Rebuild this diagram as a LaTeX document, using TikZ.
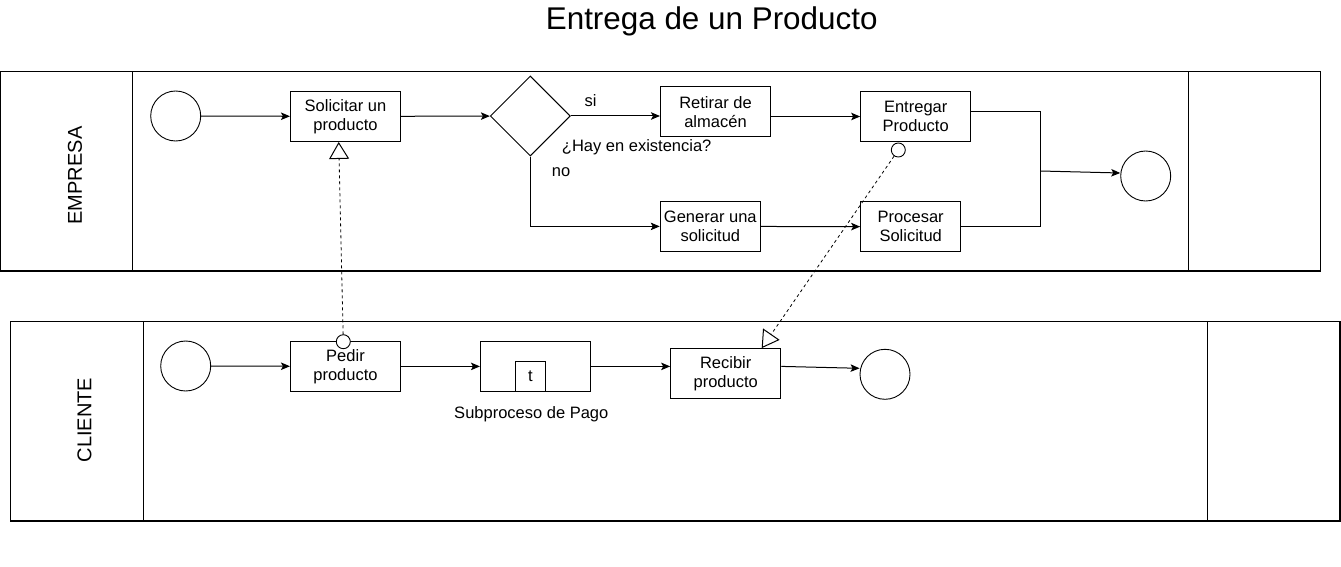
\documentclass[tikz,border=0pt]{standalone}
\usepackage{fontspec}
\setmainfont{Liberation Sans}
\usetikzlibrary{arrows.meta,shapes.geometric}

\begin{document}
\begin{tikzpicture}[x=1pt,y=-1pt,
	font=\fontsize{16.5}{19}\selectfont,
	tarea/.style={draw,line width=1.1pt,minimum width=110pt,minimum height=50pt,inner sep=0pt,align=center},
	evento/.style={draw,circle,line width=0.9pt,minimum size=50pt,inner sep=0pt},
	enlace/.style={draw,circle,line width=0.9pt,minimum size=14pt,inner sep=0pt,fill=white},
	flujo/.style={line width=1pt,-{Stealth[length=9pt,width=7.5pt,inset=2pt]}},
	mensaje/.style={line width=0.8pt,dash pattern=on 3pt off 3pt,-{Triangle[open,length=17pt,width=20pt,line width=1pt]}}]
	\useasboundingbox (0,0) rectangle (1341,567);
	% Titulo
	\node[anchor=base,font=\fontsize{31.4}{31.4}\selectfont] (titulo) at (711.7,29.4) {Entrega de un Producto};
	% Carriles
	\draw[line width=1.2pt] (0.7,71.5) rectangle (1320.3,271) (132.6,71.5) -- (132.6,271) (1188.4,71.5) -- (1188.4,271);
	\draw[line width=1.2pt] (10.6,321.6) rectangle (1340,521) (143.4,321.6) -- (143.4,521) (1207.4,321.6) -- (1207.4,521);
	\node[rotate=90,font=\fontsize{20}{20}\selectfont] (lempresa) at (75,175.5) {EMPRESA};
	\node[rotate=90,font=\fontsize{20}{20}\selectfont] (lcliente) at (84.5,420) {CLIENTE};
	% Empresa
	\node[evento] (ini1) at (175.7,116) {};
	\node[tarea] (sol) at (345.5,116.4) {Solicitar un\\producto};
	\node[draw,diamond,line width=1pt,minimum width=80pt,minimum height=80pt,inner sep=0pt] (dec) at (530.3,116) {};
	\node[tarea] (ret) at (715.5,111.8) {Retirar de\\almacén};
	\node[tarea,minimum width=100pt] (gen) at (710.3,226.4) {Generar una\\solicitud};
	\node[tarea] (ent) at (915.7,116.5) {Entregar\\Producto};
	\node[tarea,minimum width=100pt] (pro) at (910.7,226.7) {Procesar\\Solicitud};
	\node[evento] (fin1) at (1145.7,176) {};
	\coordinate (union) at (1040.3,171);
	\node[anchor=base] (si) at (590.7,106.7) {si};
	\node[anchor=base] (no) at (561,176.7) {no};
	\node[anchor=base] (pregunta) at (636.7,151.7) {¿Hay en existencia?};
	\draw[flujo] (ini1) -- (sol);
	\draw[flujo] (sol) -- (dec);
	\draw[flujo] (dec.east) -- (dec.east -| ret.west);
	\draw[flujo] (dec.south) |- (gen);
	\draw[flujo] (ret.east |- ent) -- (ent.west);
	\draw[flujo] (gen) -- (pro);
	\draw[line width=1pt] ([yshift=5pt]ent.east) -| (union);
	\draw[line width=1pt] (pro.east) -| (union);
	\draw[flujo] (union) -- ([yshift=3pt]fin1.west);
	% Cliente
	\node[evento] (ini2) at (185.7,366) {};
	\node[tarea] (ped) at (345.5,366.4) {Pedir\\producto};
	\node[tarea] (sub) at (535.5,366.4) {};
	\node[draw,line width=1.1pt,minimum width=30pt,minimum height=29.5pt,inner sep=0pt] (subt) at (530.5,376.6) {t};
	\node[anchor=base] (subl) at (531.3,418.5) {Subproceso de Pago};
	\node[tarea] (rec) at (725.7,373.7) {Recibir\\producto};
	\node[evento] (fin2) at (885,374.3) {};
	\draw[flujo] (ini2) -- (ped);
	\draw[flujo] (ped) -- (sub);
	\draw[flujo] (sub.east) -- (sub.east -| rec.west);
	\draw[flujo] (rec.east |- sub.east) -- ([yshift=6pt]fin2.west);
	% Mensajes
	\node[enlace] (m1) at (343.3,341.7) {};
	\node[enlace] (m2) at (898.3,150) {};
	\draw[mensaje] (m1) -- ([xshift=-6.8pt]sol.south);
	\draw[mensaje] (m2) -- ([xshift=36pt]rec.north);
\end{tikzpicture}
\end{document}
